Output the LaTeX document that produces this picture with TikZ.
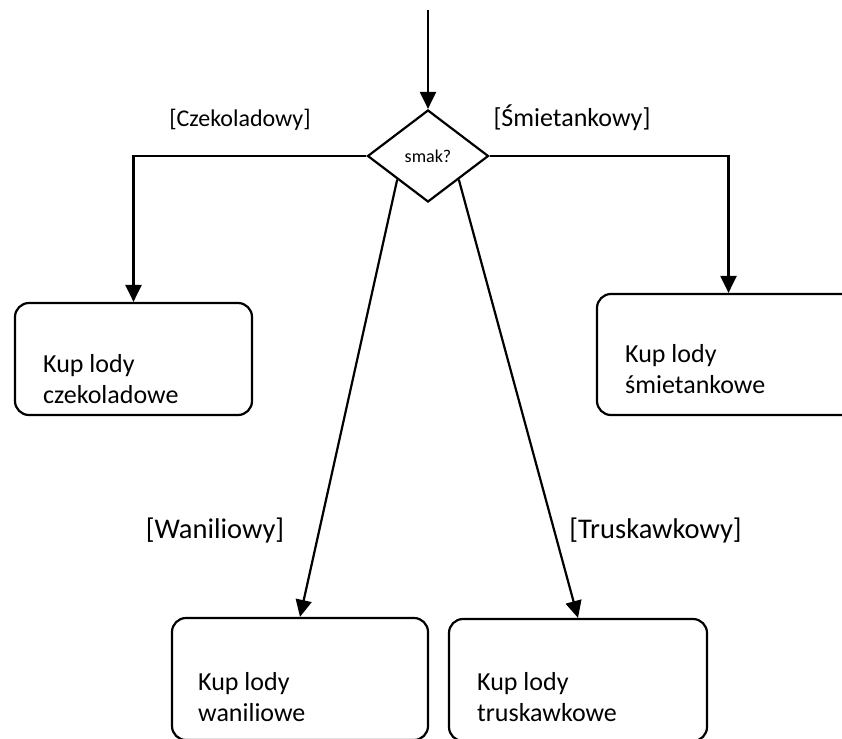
\documentclass[tikz,border=0pt]{standalone}
\usepackage{fontspec}
\setmainfont{Carlito}
\usetikzlibrary{shapes.geometric,arrows.meta}

\tikzset{
  lw/.style={line width=2.2pt},
  actbox/.style={lw, draw, rectangle, rounded corners=14pt, inner sep=0pt},
  decision/.style={lw, draw, diamond, minimum width=121pt, minimum height=92pt,
                   inner sep=0pt, font=\fontsize{18}{20}\selectfont},
  flow/.style={lw, -{Triangle[length=17pt,width=16pt]}},
  guard/.style={inner sep=0pt},
  % anchor "base west" sits on the baseline of the last line
  boxtext/.style={inner sep=0pt, anchor=base west, align=left,
                  font=\fontsize{26}{31}\selectfont},
}

\begin{document}
\begin{tikzpicture}[x=1pt,y=-1pt]
  \useasboundingbox (0,0) rectangle (842,738);

  % decision
  \coordinate (start) at (428,10);
  \node[decision] (dec) at (428,156) {smak?};

  % activities
  \node[actbox, minimum width=237pt, minimum height=112pt] (czek)  at (133.5,359) {};
  \node[actbox, minimum width=263pt, minimum height=121pt] (smiet) at (728.5,354.5) {};
  \node[actbox, minimum width=256pt, minimum height=122pt] (wanil) at (300,679) {};
  \node[actbox, minimum width=258pt, minimum height=122pt] (trusk) at (578,680) {};

  \node[boxtext] (tczek)  at (43,403)  {Kup lody\\czekoladowe};
  \node[boxtext] (tsmiet) at (625,393) {Kup lody\\śmietankowe};
  \node[boxtext] (twanil) at (198,721) {Kup lody\\waniliowe};
  \node[boxtext] (ttrusk) at (477,721) {Kup lody\\truskawkowe};

  % flows
  \draw[flow] (start) -- (dec.north);
  \draw[flow] (dec.west) -| (czek.north);
  \draw[flow] (dec.east) -| (smiet.north);
  \draw[flow] (dec.south west) -- (wanil.north);
  \draw[flow] (dec.south east) -- (trusk.north);

  % guards
  \node[guard, font=\fontsize{24}{28}\selectfont] (gczek)  at (240,120) {[Czekoladowy]};
  \node[guard, font=\fontsize{26}{30}\selectfont] (gsmiet) at (572,117.5) {[Śmietankowy]};
  \node[guard, font=\fontsize{28.5}{33}\selectfont] (gwanil) at (215,530) {[Waniliowy]};
  \node[guard, font=\fontsize{28.5}{33}\selectfont] (gtrusk) at (655.5,530) {[Truskawkowy]};
\end{tikzpicture}
\end{document}
